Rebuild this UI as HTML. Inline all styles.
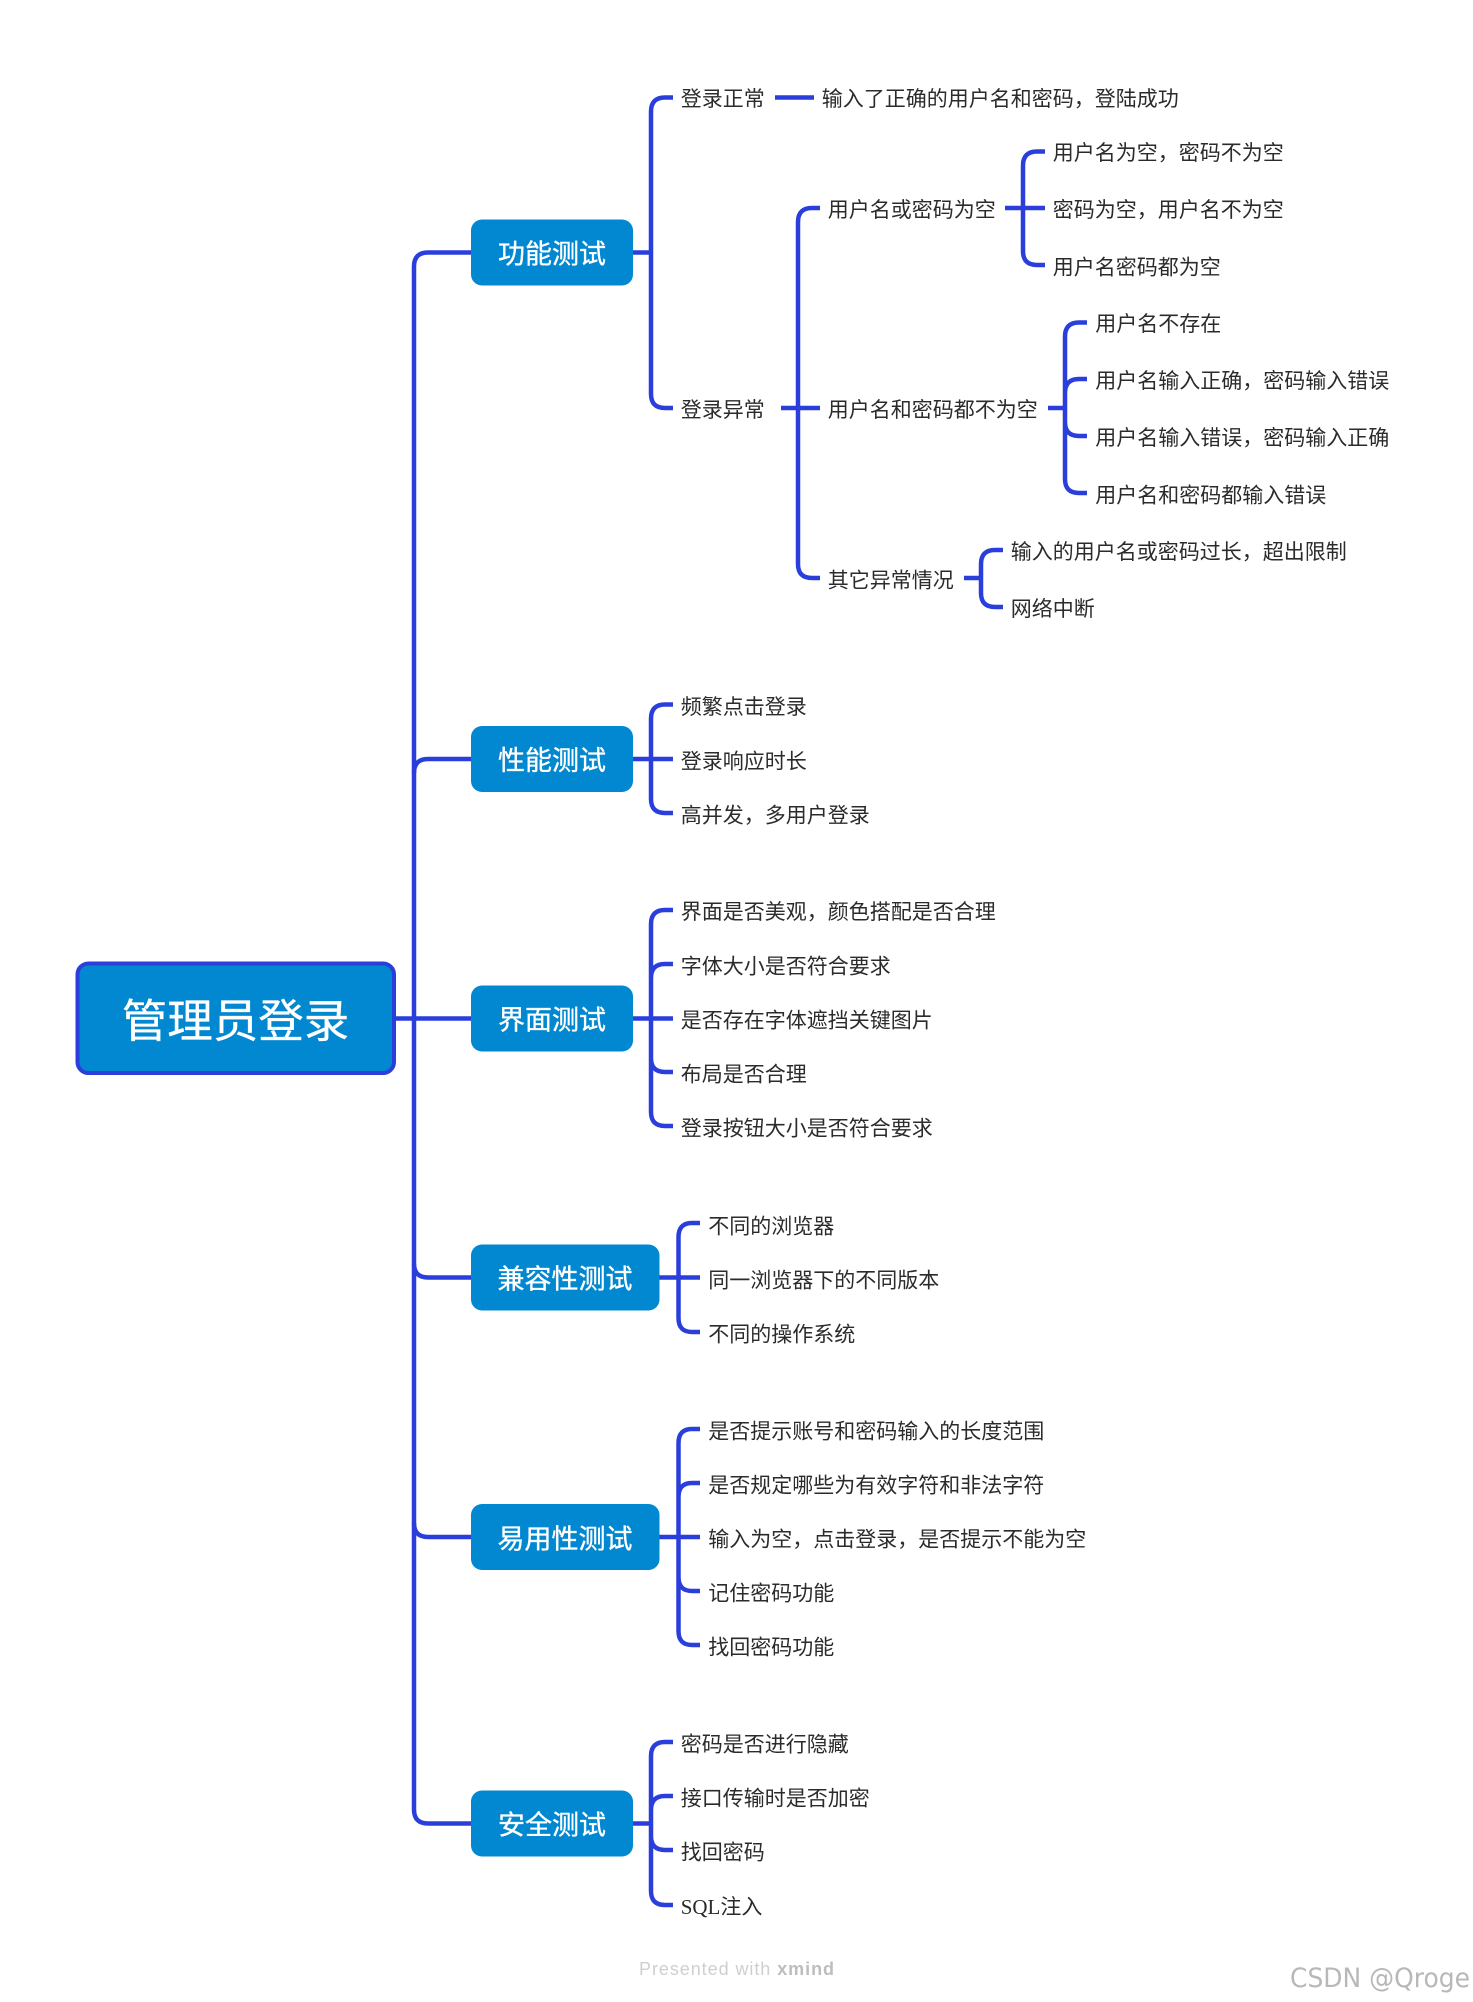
<!DOCTYPE html>
<html><head><meta charset="utf-8"><style>
html,body{margin:0;padding:0;background:#fff;width:1473px;height:2002px;overflow:hidden}
svg{display:block}
.l{fill:none;stroke:#2a3edb;stroke-width:4.5}
.t{font-family:"Liberation Sans","Noto Sans CJK SC",sans-serif;font-size:21px;fill:#2b2b2b}
.m{font-family:"Liberation Sans","Noto Sans CJK SC",sans-serif;font-size:27px;fill:#fff;stroke:#fff;stroke-width:.35;text-anchor:middle}
</style></head><body>
<svg width="1473" height="2002" viewBox="0 0 1473 2002" xmlns="http://www.w3.org/2000/svg">
<g class="l">
<path d="M471 252.500H428Q414 252.500 414 266.500V1809.500Q414 1823.500 428 1823.500H471"/>
<path d="M414 773Q414 759 428 759H471M414 1263.500Q414 1277.500 428 1277.500H471M414 1523Q414 1537 428 1537H471M396 1018.500H471"/>
<path d="M633 252.500H651M673 97.5H665Q651 97.5 651 111.5V394Q651 408 665 408H673"/>
<path d="M775 97.5H814"/>
<path d="M781 408H820M820 208H812Q798 208 798 222V564Q798 578 812 578H820"/>
<path d="M1005 208H1045M1045 151.500H1037Q1023 151.500 1023 165.500V251Q1023 265 1037 265H1045"/>
<path d="M1048 408H1065M1087 322.500H1079Q1065 322.500 1065 336.500V479Q1065 493 1079 493H1087M1087 379H1079Q1065 379 1065 393M1065 422Q1065 436 1079 436H1087"/>
<path d="M964 578H981M1003 550H995Q981 550 981 564V593Q981 607 995 607H1003"/>
<path d="M633 759H673M673 704.500H665Q651 704.500 651 718.500V799Q651 813 665 813H673"/>
<path d="M633 1018.500H673M673 910H665Q651 910 651 924V1112Q651 1126 665 1126H673M673 964H665Q651 964 651 978M651 1058Q651 1072 665 1072H673"/>
<path d="M659 1277.500H700M700 1223H692Q678.500 1223 678.500 1237V1318Q678.500 1332 692 1332H700"/>
<path d="M659 1537H700M700 1429H692Q678.500 1429 678.500 1443V1631Q678.500 1645 692 1645H700M700 1483H692Q678.500 1483 678.500 1497M678.500 1577Q678.500 1591 692 1591H700"/>
<path d="M633 1823.500H651M673 1742H665Q651 1742 651 1756V1891Q651 1905 665 1905H673M673 1796H665Q651 1796 651 1810M651 1836Q651 1850 665 1850H673"/>
</g>
<rect x="77.500" y="963.500" width="316.500" height="109.500" rx="11" fill="#0288d1" stroke="#2a3edb" stroke-width="4"/>
<text x="235.500" y="1037" text-anchor="middle" style="font-family:'Liberation Sans','Noto Sans CJK SC',sans-serif;font-size:45.500px;fill:#fff;stroke:#fff;stroke-width:.3">管理员登录</text>
<g fill="#0288d1">
<rect x="471" y="219.500" width="162" height="66" rx="11"/>
<rect x="471" y="726" width="162" height="66" rx="11"/>
<rect x="471" y="985.500" width="162" height="66" rx="11"/>
<rect x="471" y="1244.500" width="188.500" height="66" rx="11"/>
<rect x="471" y="1504" width="188.500" height="66" rx="11"/>
<rect x="471" y="1790.500" width="162" height="66" rx="11"/>
</g>
<text class="m" x="552" y="263.500">功能测试</text>
<text class="m" x="552" y="770">性能测试</text>
<text class="m" x="552" y="1029.500">界面测试</text>
<text class="m" x="565" y="1288.500">兼容性测试</text>
<text class="m" x="565" y="1548.500">易用性测试</text>
<text class="m" x="552" y="1834.500">安全测试</text>
<g class="t" transform="translate(-.3 .1)">
<text x="681" y="106">登录正常</text>
<text x="822" y="106">输入了正确的用户名和密码，登陆成功</text>
<text x="681" y="417">登录异常</text>
<text x="828" y="217">用户名或密码为空</text>
<text x="1053" y="160">用户名为空，密码不为空</text>
<text x="1053" y="217">密码为空，用户名不为空</text>
<text x="1053" y="274.500">用户名密码都为空</text>
<text x="828" y="417">用户名和密码都不为空</text>
<text x="1095.500" y="331">用户名不存在</text>
<text x="1095.500" y="388">用户名输入正确，密码输入错误</text>
<text x="1095.500" y="445">用户名输入错误，密码输入正确</text>
<text x="1095.500" y="502.500">用户名和密码都输入错误</text>
<text x="828" y="587.500">其它异常情况</text>
<text x="1011" y="559">输入的用户名或密码过长，超出限制</text>
<text x="1011" y="616">网络中断</text>
<text x="681" y="714">频繁点击登录</text>
<text x="681" y="768.500">登录响应时长</text>
<text x="681" y="822.500">高并发，多用户登录</text>
<text x="681" y="919">界面是否美观，颜色搭配是否合理</text>
<text x="681" y="973.500">字体大小是否符合要求</text>
<text x="681" y="1027.500">是否存在字体遮挡关键图片</text>
<text x="681" y="1081.500">布局是否合理</text>
<text x="681" y="1135.500">登录按钮大小是否符合要求</text>
<text x="708.500" y="1233.500">不同的浏览器</text>
<text x="708.500" y="1287.500">同一浏览器下的不同版本</text>
<text x="708.500" y="1341.500">不同的操作系统</text>
<text x="708.500" y="1438.500">是否提示账号和密码输入的长度范围</text>
<text x="708.500" y="1492.500">是否规定哪些为有效字符和非法字符</text>
<text x="708.500" y="1546.500">输入为空，点击登录，是否提示不能为空</text>
<text x="708.500" y="1600.500">记住密码功能</text>
<text x="708.500" y="1654.500">找回密码功能</text>
<text x="681" y="1751.500">密码是否进行隐藏</text>
<text x="681" y="1805.500">接口传输时是否加密</text>
<text x="681" y="1859.500">找回密码</text>
<text x="681" y="1914"><tspan style="font-family:'Liberation Serif',serif">SQL</tspan>注入</text>
</g>
<text x="639" y="1975" style="font-family:'Liberation Sans',sans-serif;font-size:18px;fill:#cfcfcf" textLength="195">Presented with <tspan font-weight="bold" fill="#bdbdbd">xmind</tspan></text>
<text x="1290" y="1987" style="font-family:'DejaVu Sans',sans-serif;font-size:27px;fill:#b8b8b8" textLength="180" lengthAdjust="spacingAndGlyphs">CSDN @Qroge</text>
</svg>
</body></html>
